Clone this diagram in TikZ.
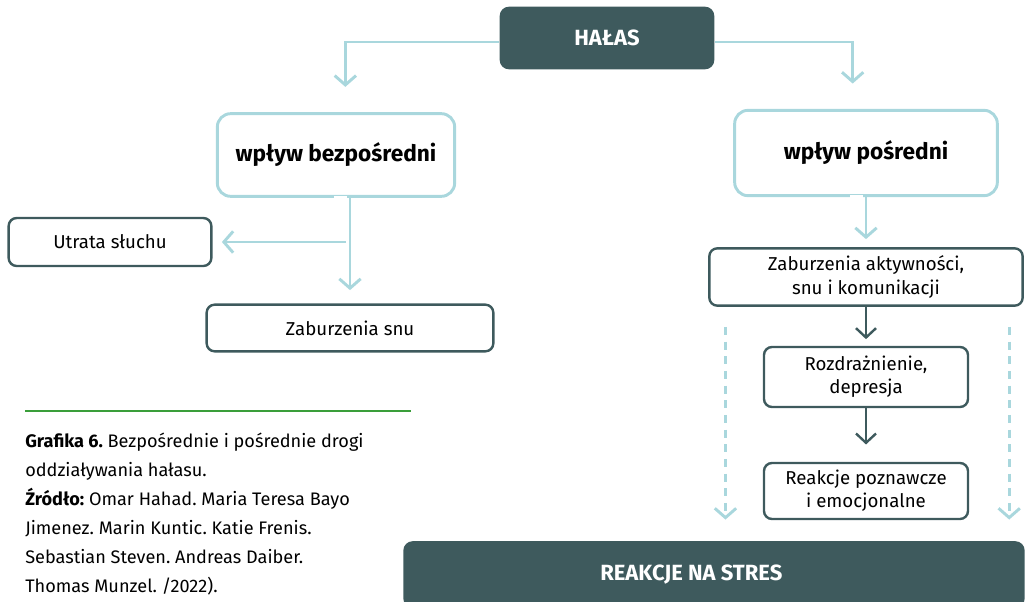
\documentclass[tikz,border=0pt]{standalone}
\usepackage{fontspec}
\setmainfont{Fira Sans}
\usetikzlibrary{arrows.meta}
\definecolor{ciemny}{HTML}{3E5A5D}
\definecolor{jasny}{HTML}{A9D7DD}
\definecolor{zielony}{HTML}{3A9E3A}
\frenchspacing
\begin{document}
\begin{tikzpicture}[x=0.75pt,y=-0.75pt,
  dark box/.style={fill=ciemny,text=white,rounded corners=7pt,font=\bfseries\fontsize{16.5}{19}\selectfont},
  blue box/.style={draw=jasny,line width=2.2pt,rounded corners=10pt,font=\bfseries\fontsize{17}{20}\selectfont},
  line box/.style={draw=ciemny,line width=1.8pt,rounded corners=6pt,align=center,font=\fontsize{14}{17.5}\selectfont},
  blue arrow/.style={draw=jasny,line width=2.2pt,-{Straight Barb[length=7pt,width=16pt]}},
  dark arrow/.style={draw=ciemny,line width=1.8pt,-{Straight Barb[length=7pt,width=15pt]}},
  dashed arrow/.style={blue arrow,dash pattern=on 6pt off 5pt}]

  \useasboundingbox (0,0) rectangle (1025,601);

  \node[dark box, minimum width=161pt, minimum height=47pt] (hal) at (607,38) {HAŁAS};
  \node[blue box, minimum width=178pt, minimum height=62pt] (bezp) at (336,155) {wpływ bezpośredni};
  \node[blue box, minimum width=197pt, minimum height=64pt] (pos) at (866,153) {wpływ pośredni};

  \node[line box, minimum width=152pt, minimum height=36pt] (utr) at (110,242) {Utrata słuchu};
  \node[line box, minimum width=215pt, minimum height=35pt] (snu) at (350,328) {Zaburzenia snu};

  \node[line box, minimum width=235pt, minimum height=43pt] (zab) at (866,277) {Zaburzenia aktywności,\\snu i komunikacji};
  \node[line box, minimum width=153pt, minimum height=45pt] (roz) at (866,377) {Rozdrażnienie,\\depresja};
  \node[line box, minimum width=153pt, minimum height=42pt] (rea) at (866,491) {Reakcje poznawcze\\i emocjonalne};

  \node[dark box, minimum width=466pt, minimum height=50pt] (stres) at (714,574.5) {\hspace*{-34pt}REAKCJE NA STRES};

  \draw[blue arrow, shorten >=19pt] ([yshift=-3pt]hal.west) -| ([xshift=7pt]bezp.north);
  \draw[blue arrow, shorten >=19pt] ([yshift=-3pt]hal.east) -| ([xshift=-10pt]pos.north);

  \draw[white, line width=3pt] ([xshift=-12pt]bezp.south -| snu.north) -- ([xshift=-2pt]bezp.south -| snu.north);
  \draw[white, line width=3pt] ([xshift=-12pt]pos.south -| zab.north) -- ([xshift=-2pt]pos.south -| zab.north);

  \draw[blue arrow, shorten >=10pt] (bezp.south -| snu.north) -- (snu.north);
  \draw[blue arrow, shorten >=7pt] ([xshift=-3pt]snu.north |- utr.east) -- (utr.east);
  \draw[blue arrow, shorten >=6pt] (pos.south -| zab.north) -- (zab.north);

  \draw[dark arrow, shorten >=5pt] (zab.south) -- (roz.north);
  \draw[dark arrow, shorten >=13pt] (roz.south) -- (rea.north);

  \draw[dashed arrow, shorten <=15pt, shorten >=16pt] ([xshift=13pt]zab.south west) -- ([xshift=13pt]zab.south west |- stres.north);
  \draw[dashed arrow, shorten <=15pt, shorten >=16pt] ([xshift=-11pt]zab.south east) -- ([xshift=-11pt]zab.south east |- stres.north);

  \draw[zielony, line width=1pt] (25,411) -- (411,411);
  \node[anchor=north west, align=left, inner sep=0pt, font=\fontsize{13.6}{21.75}\selectfont] (opis) at (25,433)
    {\textbf{Grafika 6.} Bezpośrednie i pośrednie drogi\\
     oddziaływania hałasu.\\
     \textbf{Źródło:} Omar Hahad. Maria Teresa Bayo\\
     Jimenez. Marin Kuntic. Katie Frenis.\\
     Sebastian Steven. Andreas Daiber.\\
     Thomas Munzel. /2022).};

\end{tikzpicture}
\end{document}
